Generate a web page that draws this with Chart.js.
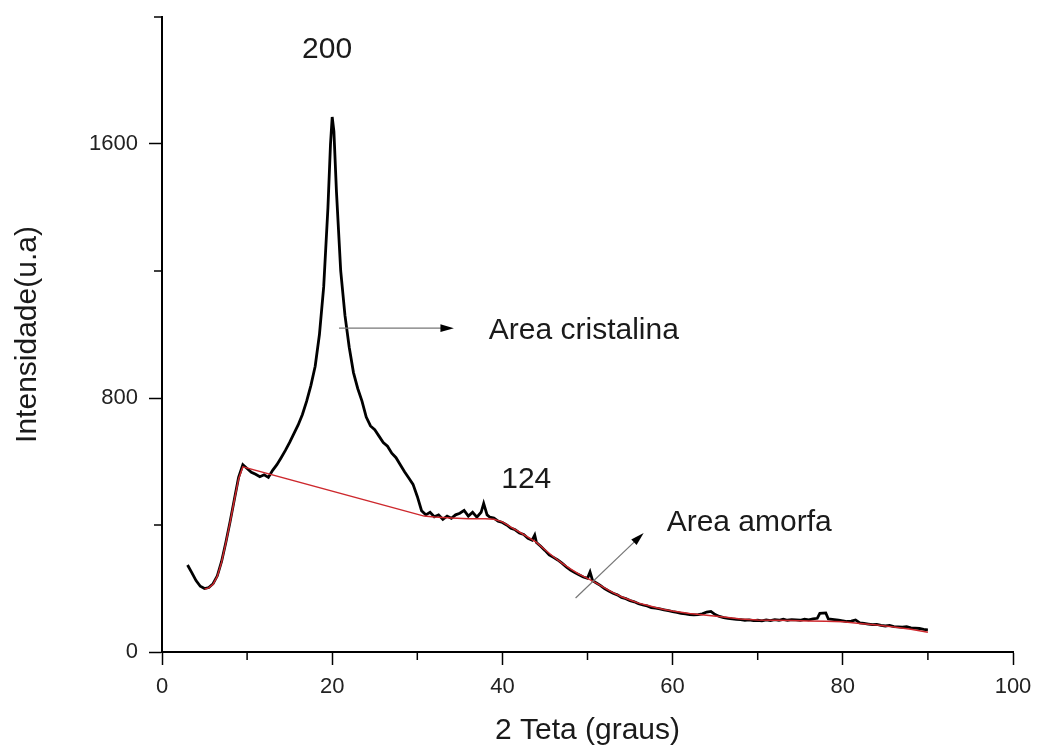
<!DOCTYPE html>
<html>
<head>
<meta charset="utf-8">
<script src="https://cdn.jsdelivr.net/npm/chart.js@4"></script>
<style>
  body { margin: 0; background: #fff; }
  #wrap { width: 1038px; height: 749px; }
</style>
</head>
<body>
<div id="wrap"><canvas id="myChart" width="1038" height="749"></canvas></div>
<script>
// difratograma (linha preta)
var tetaDrx = [3.0, 3.5, 4.0, 4.5, 5.0, 5.5, 6.0, 6.5, 7.0, 7.5, 8.0, 8.5, 9.0, 9.5, 10.0, 10.5, 11.0, 11.5, 12.0, 12.5,
  13.0, 13.5, 14.0, 14.5, 15.0, 15.5, 16.0, 16.5, 17.0, 17.5, 18.0, 18.5, 19.0, 19.5, 19.8, 20.0, 20.2, 20.5, 21.0, 21.5,
  22.0, 22.5, 23.0, 23.5, 24.0, 24.5, 25.0, 25.5, 26.0, 26.5, 27.0, 27.5, 28.0, 28.5, 29.0, 29.5, 30.0, 30.5, 31.0, 31.5,
  32.0, 32.5, 33.0, 33.5, 34.0, 34.5, 35.0, 35.5, 36.0, 36.5, 37.0, 37.5, 37.8, 38.2, 38.5, 39.0, 39.5, 40.0, 40.5, 41.0,
  41.5, 42.0, 42.5, 43.0, 43.5, 43.8, 44.0, 44.5, 45.0, 45.5, 46.0, 46.5, 47.0, 47.5, 48.0, 48.5, 49.0, 49.5, 50.0, 50.3,
  50.6, 51.0, 51.5, 52.0, 52.5, 53.0, 53.5, 54.0, 54.5, 55.0, 55.5, 56.0, 56.5, 57.0, 57.5, 58.0, 58.5, 59.0, 59.5, 60.0,
  60.5, 61.0, 61.5, 62.0, 62.5, 63.0, 63.5, 64.0, 64.5, 65.0, 65.5, 66.0, 66.5, 67.0, 67.5, 68.0, 68.5, 69.0, 69.5, 70.0,
  70.5, 71.0, 71.5, 72.0, 72.5, 73.0, 73.5, 74.0, 74.5, 75.0, 75.5, 76.0, 76.5, 77.0, 77.3, 78.0, 78.3, 79.0, 79.5, 80.0,
  80.5, 81.0, 81.5, 82.0, 82.5, 83.0, 83.5, 84.0, 84.5, 85.0, 85.5, 86.0, 86.5, 87.0, 87.5, 88.0, 88.5, 89.0, 89.5, 90.0];
var intDrx = [274, 250, 225, 207, 200, 203, 215, 240, 285, 345, 410, 480, 550, 590, 578, 566, 560, 552, 558, 550,
  572, 590, 612, 635, 660, 688, 715, 748, 790, 840, 900, 1000, 1150, 1400, 1600, 1685, 1640, 1450, 1200, 1060,
  960, 880, 830, 790, 740, 712, 700, 680, 660, 648, 626, 612, 590, 568, 548, 528, 490, 445, 432, 440,
  426, 432, 418, 428, 421, 432, 437, 446, 428, 440, 425, 440, 468, 432, 425, 422, 412, 408, 400, 390,
  385, 375, 370, 358, 352, 368, 345, 333, 320, 306, 298, 290, 280, 268, 258, 250, 243, 236, 232, 252,
  225, 218, 210, 200, 192, 185, 180, 172, 168, 162, 158, 152, 148, 145, 140, 138, 136, 133, 130, 127,
  125, 122, 120, 118, 117, 118, 120, 126, 128, 118, 112, 108, 106, 104, 103, 102, 100, 101, 99, 100,
  98, 101, 99, 102, 100, 103, 100, 102, 101, 100, 103, 101, 104, 106, 122, 123, 104, 102, 100, 98,
  96, 97, 101, 92, 90, 88, 86, 87, 84, 82, 84, 80, 79, 78, 80, 76, 75, 74, 71, 70];

// linha de base amorfa (vermelha)
var tetaAmorfa = [5, 5.5, 6, 6.5, 7, 7.5, 8, 8.5, 9, 9.5, 30.8, 32, 34, 36, 38, 39, 40, 41, 42, 43, 44, 45, 46, 47, 48,
  49, 50, 51, 52, 53, 54, 55, 56, 57, 58, 59, 60, 62, 64, 66, 68, 70, 72, 74, 76, 78, 80, 82, 84, 86, 88, 90];
var intAmorfa = [198, 202, 213, 238, 283, 343, 408, 478, 545, 583, 428, 425, 422, 420, 420, 418, 410, 393, 378, 362, 345,
  322, 300, 280, 262, 245, 232, 218, 202, 187, 174, 164, 154, 147, 140, 134, 129, 121, 116, 110, 104, 101, 100, 99, 98,
  97, 95, 90, 85, 79, 72, 62];

var xTicks = [0, 20, 40, 60, 80, 100];
var yTicks = [0, 800, 1600];

// anotacoes [texto, x, y]
var textos = [["200", 19.4, 1896], ["Area cristalina", 38.4, 1011], ["124", 42.8, 542], ["Area amorfa", 59.3, 406]];
// setas [x1, y1, x2, y2]
var setas = [[20.8, 1020, 34.3, 1020], [48.6, 170, 56.6, 375]];

var fonte = "'Liberation Sans', Arial, sans-serif";

function pontos(xs, ys) {
    return xs.map((x, i) => ({ x: x, y: ys[i] }));
}

var extras = {
    id: "extras",
    afterDraw(chart) {
        const ctx = chart.ctx;
        const sx = chart.scales.x, sy = chart.scales.y;
        ctx.save();
        // ticks menores
        ctx.strokeStyle = "#000";
        ctx.lineWidth = 1.5;
        for (let v = 10; v < 100; v += 20) {
            let px = sx.getPixelForValue(v);
            ctx.beginPath(); ctx.moveTo(px, sx.top); ctx.lineTo(px, sx.top + 8); ctx.stroke();
        }
        for (let v = 400; v <= 2000; v += 800) {
            let py = sy.getPixelForValue(v);
            ctx.beginPath(); ctx.moveTo(sy.right, py); ctx.lineTo(sy.right - 8, py); ctx.stroke();
        }
        // textos
        ctx.fillStyle = "#1a1a1a";
        ctx.font = "30px " + fonte;
        ctx.textBaseline = "middle";
        textos.forEach(t => {
            ctx.textAlign = (t[0].length > 3) ? "left" : "center";
            ctx.fillText(t[0], sx.getPixelForValue(t[1]), sy.getPixelForValue(t[2]));
        });
        // setas
        setas.forEach(s => {
            let x1 = sx.getPixelForValue(s[0]), y1 = sy.getPixelForValue(s[1]);
            let x2 = sx.getPixelForValue(s[2]), y2 = sy.getPixelForValue(s[3]);
            let ang = Math.atan2(y2 - y1, x2 - x1);
            ctx.strokeStyle = "#777";
            ctx.lineWidth = 1.2;
            ctx.beginPath(); ctx.moveTo(x1, y1); ctx.lineTo(x2 - 10 * Math.cos(ang), y2 - 10 * Math.sin(ang)); ctx.stroke();
            ctx.fillStyle = "#000";
            ctx.beginPath();
            ctx.moveTo(x2, y2);
            ctx.lineTo(x2 - 14 * Math.cos(ang - 0.28), y2 - 14 * Math.sin(ang - 0.28));
            ctx.lineTo(x2 - 14 * Math.cos(ang + 0.28), y2 - 14 * Math.sin(ang + 0.28));
            ctx.closePath(); ctx.fill();
        });
        ctx.restore();
    }
};

new Chart("myChart", {
    type: "scatter",
    data: {
        datasets: [{
            data: pontos(tetaAmorfa, intAmorfa),
            showLine: true,
            borderColor: "rgb(205,40,45)",
            borderWidth: 1.5,
            pointRadius: 0,
            tension: 0
        }, {
            data: pontos(tetaDrx, intDrx),
            showLine: true,
            borderColor: "#000",
            borderWidth: 2.8,
            pointRadius: 0,
            tension: 0
        }]
    },
    options: {
        responsive: false,
        animation: false,
        layout: { padding: { top: 17, right: 25, left: 0, bottom: 0 } },
        plugins: { legend: { display: false }, tooltip: { enabled: false } },
        scales: {
            x: {
                type: "linear", min: 0, max: 100,
                afterBuildTicks: s => { s.ticks = xTicks.map(v => ({ value: v })); },
                ticks: { color: "#222", font: { size: 22, family: fonte }, padding: 9, maxRotation: 0, callback: v => String(v) },
                grid: { drawOnChartArea: false, tickLength: 13, tickColor: "#000", tickWidth: 1.5 },
                border: { color: "#000", width: 2 },
                title: { display: true, text: "2 Teta (graus)", color: "#1a1a1a", font: { size: 30, family: fonte }, padding: { top: 0, bottom: 0 } },
                afterFit: s => { s.height = 97; s.paddingLeft = 0; s.paddingRight = 0; }
            },
            y: {
                min: 0, max: 2000,
                afterBuildTicks: s => { s.ticks = yTicks.map(v => ({ value: v })); },
                ticks: { color: "#222", font: { size: 22, family: fonte }, padding: 11, callback: v => String(v) },
                grid: { drawOnChartArea: false, tickLength: 13, tickColor: "#000", tickWidth: 1.5 },
                border: { color: "#000", width: 2 },
                title: { display: true, text: "Intensidade(u.a)", color: "#1a1a1a", font: { size: 30, family: fonte }, padding: { top: 10, bottom: 0 } },
                afterFit: s => { s.width = 162; s.paddingTop = 0; s.paddingBottom = 0; }
            }
        }
    },
    plugins: [extras]
});
</script>
</body>
</html>
